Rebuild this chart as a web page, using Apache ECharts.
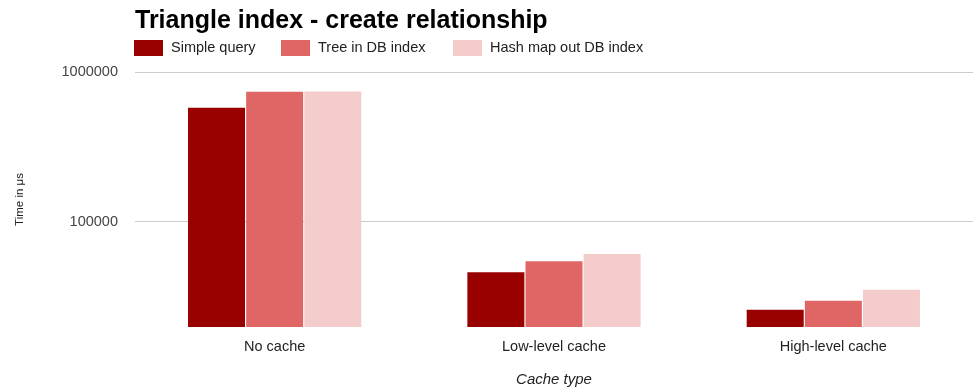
<!DOCTYPE html>
<html>
<head>
<meta charset="utf-8">
<script src="https://cdn.jsdelivr.net/npm/echarts@6/dist/echarts.min.js"></script>
<style>html,body{margin:0;padding:0;background:#fff}#c{width:973px;height:392px}</style>
</head>
<body>
<div id="c"></div>
<script>
const categories = ["No cache", "Low-level cache", "High-level cache"];
const seriesNames = ["Simple query", "Tree in DB index", "Hash map out DB index"];
const simpleQuery = [576000, 45800, 25700];
const treeInDb = [739000, 54200, 29500];
const hashMapOutDb = [740000, 60600, 34900];
const colors = ["#990000", "#e06666", "#f4cccc"];
const values = [simpleQuery, treeInDb, hashMapOutDb];

const chart = echarts.init(document.getElementById('c'));
const legendLefts = [134, 281, 453];
const FONT = "Liberation Sans";
chart.setOption({
  animation: false,
  title: {
    text: "Triangle index - create relationship",
    left: 135, top: 9, padding: 0,
    textStyle: {fontFamily: FONT, fontWeight: "bold", fontSize: 25, color: "#000"}
  },
  legend: seriesNames.map((n, i) => ({
    data: [n], left: legendLefts[i], top: 40, padding: 0,
    itemWidth: 29, itemHeight: 16, icon: "rect",
    textStyle: {fontFamily: FONT, fontSize: 14.5, color: "#222", padding: [0, 0, 0, 3]}
  })),
  grid: {left: 135, right: 0, top: 72, bottom: 64},
  xAxis: {
    type: "category", data: categories,
    axisLine: {show: false}, axisTick: {show: false},
    axisLabel: {fontFamily: FONT, fontSize: 14.5, color: "#222", margin: 12},
    name: "Cache type", nameLocation: "middle", nameGap: 45,
    nameTextStyle: {fontFamily: FONT, fontSize: 15, fontStyle: "italic", color: "#222"}
  },
  yAxis: {
    type: "log", logBase: 10, min: 19700, max: 1000000,
    axisLine: {show: false}, axisTick: {show: false},
    splitLine: {showMinLine: false, lineStyle: {color: "#cccccc", width: 1}},
    axisLabel: {
      fontFamily: FONT, fontSize: 14.5, color: "#444", margin: 17,
      showMinLabel: false,
      formatter: v => { const l = Math.log10(v); return Math.abs(l - Math.round(l)) < 1e-6 ? String(Math.round(v)) : ""; }
    },
    name: "Time in μs", nameLocation: "middle", nameGap: 109,
    nameTextStyle: {fontFamily: FONT, fontSize: 11.5, color: "#222"}
  },
  series: seriesNames.map((n, i) => ({
    name: n, type: "bar", data: values[i],
    barWidth: 57, barGap: "2%",
    itemStyle: {color: colors[i]}
  }))
});
</script>
</body>
</html>
